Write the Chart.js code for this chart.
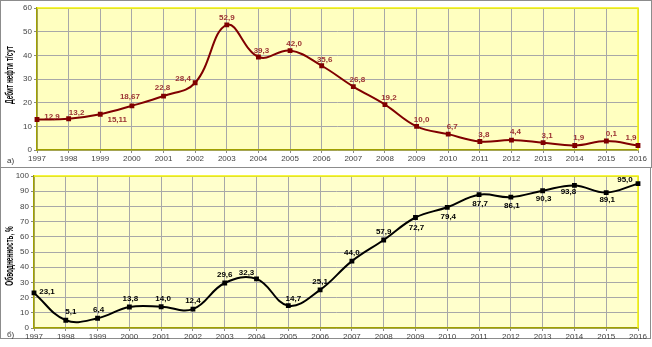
<!DOCTYPE html>
<html>
<head>
<meta charset="utf-8">
<script src="https://cdn.jsdelivr.net/npm/chart.js@4"></script>
<style>
  body { margin: 0; background: #fff; width: 652px; height: 347px; position: relative; overflow: hidden; font-family: "Liberation Sans", Arial, sans-serif; }
  .panel { position: absolute; border: 1px solid #8c8c8c; box-sizing: border-box; }
  canvas { position: absolute; left: 0; }
  .tag { position: absolute; font-size: 8px; color: #333; }
</style>
</head>
<body>
<div class="panel" style="left:0;top:0;width:652px;height:168px;"></div>
<div class="panel" style="left:0;top:167px;width:651px;height:172px;"></div>
<canvas id="topChart" width="652" height="167" style="top:0"></canvas>
<canvas id="bottomChart" width="652" height="180" style="top:167px"></canvas>
<div class="tag" style="left:7px;top:156px;">а)</div>
<div class="tag" style="left:7px;top:330px;">б)</div>
<script>
// years on both charts
const years = ["1997","1998","1999","2000","2001","2002","2003","2004","2005","2006",
  "2007","2008","2009","2010","2011","2012","2013","2014","2015","2016"];

// а) oil rate, t/day
const oilRate = [12.9, 13.2, 15.11, 18.67, 22.8, 28.4, 52.9, 39.3, 42.0, 35.6,
  26.8, 19.2, 10.0, 6.7, 3.6, 4.2, 3.1, 1.9, 3.8, 1.9];
const oilLabels = ["12,9","13,2","15,11","18,67","22,8","28,4","52,9","39,3","42,0","35,6",
  "26,8","19,2","10,0","6,7","3,8","4,4","3,1","1,9","0,1","1,9"];

// б) water cut, %
const waterCut = [23.1, 5.1, 6.4, 13.8, 14.0, 12.4, 29.6, 32.3, 14.7, 25.1,
  44.0, 57.9, 72.7, 79.4, 87.7, 86.1, 90.3, 93.8, 89.1, 95.0];
const waterLabels = ["23,1","5,1","6,4","13,8","14,0","12,4","29,6","32,3","14,7","25,1",
  "44,0","57,9","72,7","79,4","87,7","86,1","90,3","93,8","89,1","95,0"];

const oilTicks = { min: 0, max: 60, step: 5 };
const waterTicks = { min: 0, max: 100, step: 10 };

// where each value label sits relative to its point [dx, dy]
const oilLabelOffsets = [[15,-3],[8,-6],[17,6],[-2,-9],[-1,-8],[-12,-4],[0,-7],[3,-6],[4,-7],[3,-6],
  [4,-7],[4,-7],[5,-7],[4,-7],[4,-7],[4,-8],[4,-7],[4,-8],[5,-7],[-7,-8]];
const waterLabelOffsets = [[13,-1],[5,-8],[1,-8],[1,-8],[2,-8],[0,-8],[0,-8],[-10,-6],[5,-7],[0,-8],
  [0,-8],[0,-8],[1,10],[1,9],[1,9],[1,9],[1,8],[-6,6],[1,7],[-13,-4]];

const tickFont = { family: "'Liberation Sans', Arial, sans-serif", size: 8 };

// plot background, yellow top/right frame, condensed y title
const plotFrame = {
  id: "plotFrame",
  beforeDraw(chart, args, opts) {
    const a = chart.chartArea, ctx = chart.ctx;
    ctx.save();
    ctx.fillStyle = opts.bg;
    ctx.fillRect(a.left, a.top, a.right - a.left, a.bottom - a.top);
    ctx.restore();
  },
  beforeDatasetsDraw(chart, args, opts) {
    const a = chart.chartArea, ctx = chart.ctx;
    ctx.save();
    ctx.strokeStyle = "#f5f500";
    ctx.lineWidth = 1.5;
    ctx.beginPath();
    ctx.moveTo(a.left, a.top);
    ctx.lineTo(a.right, a.top);
    ctx.lineTo(a.right, a.bottom);
    ctx.stroke();
    // axis title, squeezed like a narrow font
    ctx.translate(10, (a.top + a.bottom) / 2 + opts.titleShift);
    ctx.rotate(-Math.PI / 2);
    ctx.scale(0.64, 1);
    ctx.font = "bold 10px 'Liberation Sans', Arial, sans-serif";
    ctx.fillStyle = "#000";
    ctx.textAlign = "center";
    ctx.textBaseline = "middle";
    ctx.fillText(opts.title, 0, 0);
    ctx.restore();
  }
};

// value labels next to points
const valueLabels = {
  id: "valueLabels",
  afterDatasetsDraw(chart, args, opts) {
    const ctx = chart.ctx;
    const pts = chart.getDatasetMeta(0).data;
    ctx.save();
    ctx.font = "bold 8px 'Liberation Sans', Arial, sans-serif";
    ctx.fillStyle = opts.color;
    ctx.textAlign = "center";
    ctx.textBaseline = "middle";
    pts.forEach((p, i) => {
      const o = opts.offsets[i];
      ctx.fillText(opts.texts[i], p.x + o[0], p.y + o[1]);
    });
    ctx.restore();
  }
};

function makeChart(id, values, ticks, opt) {
  return new Chart(document.getElementById(id), {
    type: "line",
    data: {
      labels: years,
      datasets: [{
        data: values,
        borderColor: opt.lineColor,
        backgroundColor: opt.lineColor,
        borderWidth: 2,
        pointStyle: "rect",
        pointRadius: 2,
        tension: 0.4,
        fill: false
      }]
    },
    options: {
      responsive: false,
      animation: false,
      events: [],
      layout: { padding: { top: opt.padTop, right: 14, left: 0, bottom: 0 } },
      plugins: {
        legend: { display: false },
        tooltip: { enabled: false },
        plotFrame: { bg: opt.bg, title: opt.yTitle, titleShift: opt.titleShift },
        valueLabels: { texts: opt.texts, offsets: opt.offsets, color: opt.labelColor }
      },
      scales: {
        x: {
          offset: false,
          afterFit: s => { s.height = opt.xHeight; },
          grid: { color: "#a8a8a8", tickLength: 3, tickColor: "#888" },
          border: { color: "#a0a000", width: 1.5 },
          ticks: { font: tickFont, color: "#444", padding: 1, maxRotation: 0, autoSkip: false }
        },
        y: {
          min: ticks.min,
          max: ticks.max,
          afterFit: s => { s.width = opt.yWidth; },
          grid: { color: "#a8a8a8", tickLength: 3, tickColor: "#888" },
          border: { color: "#a0a000", width: 1.5 },
          ticks: { stepSize: ticks.step, font: tickFont, color: "#444", padding: 2 }
        }
      }
    },
    plugins: [plotFrame, valueLabels]
  });
}

makeChart("topChart", oilRate, oilTicks, {
  lineColor: "#800000", labelColor: "#9b3333", bg: "#ffffc0",
  texts: oilLabels, offsets: oilLabelOffsets, titleShift: -4,
  yTitle: "Дебит нефти т/сут", padTop: 8, xHeight: 17, yWidth: 37
});

makeChart("bottomChart", waterCut, waterTicks, {
  lineColor: "#000000", labelColor: "#000000", bg: "#ffffcc",
  texts: waterLabels, offsets: waterLabelOffsets, titleShift: 4,
  yTitle: "Обводненность, %", padTop: 9, xHeight: 19, yWidth: 34
});
</script>
</body>
</html>
